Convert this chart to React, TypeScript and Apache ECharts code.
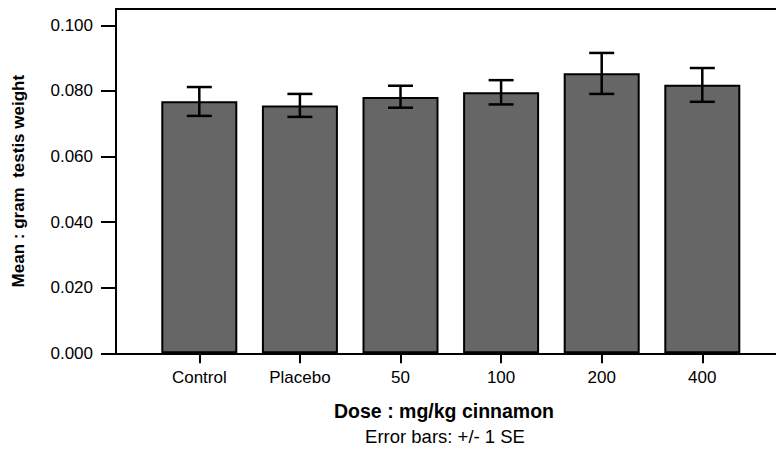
import React, { useEffect, useRef } from "react";
import * as echarts from "echarts";

const categories = ["Control", "Placebo", "50", "100", "200", "400"];
const means = [0.0769, 0.0756, 0.0782, 0.0796, 0.0854, 0.0819];
const upper = [0.0812, 0.0791, 0.0816, 0.0833, 0.0916, 0.0870];
const lower = [0.0724, 0.0721, 0.0749, 0.0759, 0.0791, 0.0767];
const yTicks = [0, 0.02, 0.04, 0.06, 0.08, 0.1];

const FONT = "'Liberation Sans', Arial, Helvetica, sans-serif";

export default function App() {
  const ref = useRef<HTMLDivElement>(null);
  useEffect(() => {
    document.body.style.margin = "0";
    if (!ref.current) return;
    const chart = echarts.init(ref.current, undefined, { renderer: "svg" });
    const errData = categories.map((c, i) => [i, lower[i], upper[i]]);
    const gridTop = 9;
    const gridBottom = 96.7;
    chart.setOption({
      animation: false,
      backgroundColor: "#ffffff",
      textStyle: { fontFamily: FONT },
      grid: [
        { left: 116, right: 0, top: gridTop, bottom: gridBottom },
        { left: 149, right: 23.4, top: gridTop, bottom: gridBottom },
      ],
      xAxis: [
        {
          type: "value",
          gridIndex: 0,
          position: "bottom",
          min: 0,
          max: 1,
          axisLine: { show: true, lineStyle: { color: "#000", width: 2 } },
          axisTick: { show: false },
          axisLabel: { show: false },
          splitLine: { show: false },
        },
        {
          type: "value",
          gridIndex: 0,
          position: "top",
          min: 0,
          max: 1,
          axisLine: { show: true, lineStyle: { color: "#000", width: 2 } },
          axisTick: { show: false },
          axisLabel: { show: false },
          splitLine: { show: false },
        },
        {
          type: "category",
          gridIndex: 1,
          data: categories,
          position: "bottom",
          offset: 3,
          axisLine: { show: false },
          axisTick: {
            show: true,
            alignWithLabel: true,
            length: 10,
            lineStyle: { color: "#000", width: 2 },
          },
          axisLabel: {
            color: "#000",
            fontSize: 17,
            fontFamily: FONT,
            margin: 13,
          },
          splitLine: { show: false },
        },
      ],
      yAxis: [
        {
          type: "value",
          gridIndex: 0,
          min: 0,
          max: 0.105,
          interval: 0.02,
          axisLine: { show: true, lineStyle: { color: "#000", width: 2 } },
          axisTick: {
            show: true,
            length: 15,
            lineStyle: { color: "#000", width: 2 },
          },
          axisLabel: {
            color: "#000",
            fontSize: 17,
            fontFamily: FONT,
            margin: 23,
            showMaxLabel: false,
            formatter: (v: number) =>
              yTicks.some((t) => Math.abs(t - v) < 1e-9) ? v.toFixed(3) : "",
          },
          splitLine: { show: false },
          name: "Mean : gram  testis weight",
          nameLocation: "middle",
          nameGap: 89,
          nameTextStyle: {
            color: "#000",
            fontSize: 17,
            fontWeight: "bold",
            fontFamily: FONT,
          },
        },
        {
          type: "value",
          gridIndex: 1,
          min: 0,
          max: 0.105,
          interval: 0.02,
          show: false,
        },
      ],
      series: [
        {
          type: "bar",
          xAxisIndex: 2,
          yAxisIndex: 1,
          data: means,
          barWidth: 76,
          itemStyle: { color: "#666666", borderColor: "#000", borderWidth: 2 },
        },
        {
          type: "custom",
          xAxisIndex: 2,
          yAxisIndex: 1,
          data: errData,
          z: 10,
          renderItem: (params: any, api: any) => {
            const x = api.value(0);
            const lo = api.coord([x, api.value(1)]);
            const hi = api.coord([x, api.value(2)]);
            const half = 12.5;
            const st = { stroke: "#000", lineWidth: 2.5 };
            return {
              type: "group",
              children: [
                { type: "line", shape: { x1: lo[0], y1: lo[1], x2: hi[0], y2: hi[1] }, style: st },
                { type: "line", shape: { x1: hi[0] - half, y1: hi[1], x2: hi[0] + half, y2: hi[1] }, style: st },
                { type: "line", shape: { x1: lo[0] - half, y1: lo[1], x2: lo[0] + half, y2: lo[1] }, style: st },
              ],
            };
          },
        },
      ],
      graphic: [
        {
          type: "text",
          x: 444,
          y: 410.5,
          style: {
            text: "Dose : mg/kg cinnamon",
            fontSize: 19.5,
            fontWeight: "bold",
            fontFamily: FONT,
            fill: "#000",
            textAlign: "center",
            textVerticalAlign: "middle",
          },
        },
        {
          type: "text",
          x: 445,
          y: 436.5,
          style: {
            text: "Error bars: +/- 1 SE",
            fontSize: 18.5,
            fontFamily: FONT,
            fill: "#000",
            textAlign: "center",
            textVerticalAlign: "middle",
          },
        },
      ],
    });
    return () => chart.dispose();
  }, []);
  return <div ref={ref} style={{ width: 776, height: 450 }} />;
}
